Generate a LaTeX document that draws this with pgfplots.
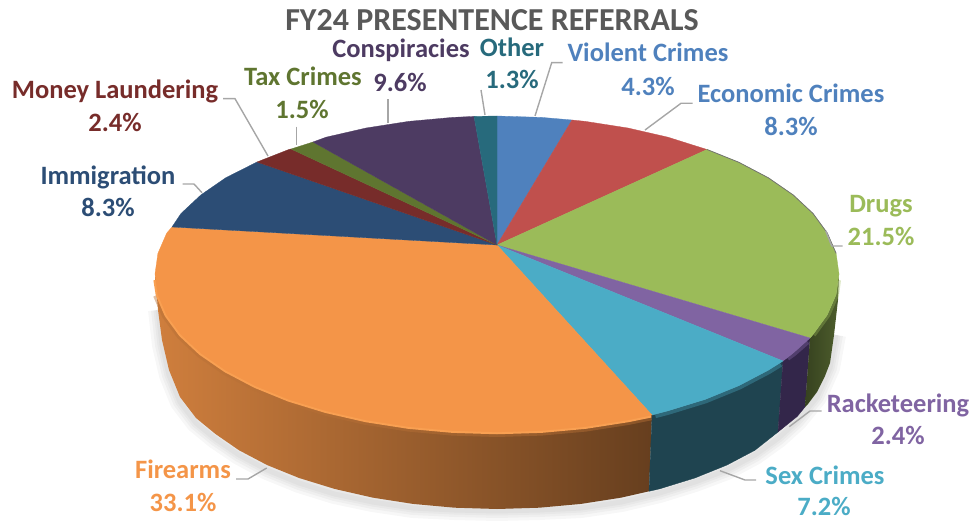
\documentclass[border=0pt]{standalone}
\usepackage{fontspec}
\setmainfont{Carlito}
\usepackage{pgfplots}
\pgfplotsset{compat=1.18}
\definecolor{cViolent}{HTML}{4F81BD}
\definecolor{cEcon}{HTML}{C0504D}
\definecolor{cDrugs}{HTML}{9BBB59}
\definecolor{cRack}{HTML}{8064A2}
\definecolor{cSex}{HTML}{4BACC6}
\definecolor{cFire}{HTML}{F49548}
\definecolor{cImm}{HTML}{2C4D75}
\definecolor{cMoney}{HTML}{772C2A}
\definecolor{cTax}{HTML}{5F7530}
\definecolor{cCons}{HTML}{4D3B62}
\definecolor{cOther}{HTML}{276A7C}
\definecolor{cLead}{HTML}{A6A6A6}
\definecolor{cLip}{HTML}{F9A052}
\definecolor{cSexSide}{HTML}{1F4450}
\definecolor{cRackSide}{HTML}{33264A}
\tikzset{
  lab/.style={font=\fontsize{26.5}{30}\selectfont\bfseries, inner sep=0pt, anchor=base},
  lead/.style={no markers, draw=cLead, line width=1.4pt},
  face/.style={no markers, fill=#1, draw=#1, line width=0.3pt},
  rim/.style={no markers, draw=#1, line join=round},
  shadow/.style={no markers, draw=black, opacity=0.03, line join=round},
}
\begin{document}
\begin{tikzpicture}
\begin{axis}[
  width=974pt, height=519pt, scale only axis,
  xmin=0, xmax=974, ymin=0, ymax=519, y dir=reverse,
  hide axis, clip=false,
]
% keep the whole frame in the page, hide axis drops it otherwise
\path (axis cs:0,0) rectangle (axis cs:974,519);
% soft shadow under the pie
\pgfplotsinvokeforeach{20,14,9,5}{
  \addplot[shadow, line width=#1pt] coordinates {
    (158,310) (162,345) (169,375) (180,402) (196,423) (215.5,439) (239.1,455) (267.2,470)
    (299.1,483) (334.5,494) (372.6,502) (412.9,508) (454.6,510) (497,511) (539.4,510) (581.1,508)
    (621.4,502) (659.5,493) (694.9,482) (726.8,470) (754.9,455) (778.5,438) (797.3,421) (817,397)
    (830,368) (836,335)
  };
}
% side walls
\addplot[no markers, shade, left color=cFire!85!black, middle color=cFire!70!black!80!cFire, right color=cFire!42!black, draw=none] coordinates {
  (155,274) (157.9,294.6) (166.7,314.9) (181,334.5) (200.8,353) (225.7,370.2) (255.2,385.7) (288.8,399.4)
  (326,410.8) (366.1,420) (408.5,426.6) (452.4,430.6) (497,432) (541.6,430.6) (585.5,426.6) (627.9,420) (652,415)
  (649,491.3) (621.4,497.6) (581.1,503.9) (539.4,507.7) (497,509) (454.6,507.7) (412.9,503.9) (372.6,497.6)
  (334.5,488.9) (299.1,478) (267.2,465.1) (239.1,450.3) (215.5,434) (196,418) (180,397) (169,370) (162,340) (158,310)
} -- cycle;
\addplot[face=cSexSide] coordinates {
  (652,415) (668,410.8) (705.2,399.4) (738.8,385.7) (768.3,370.2) (783,361)
  (778,432) (754.9,450.3) (726.8,465.1) (694.9,478) (659.5,488.9) (649,491.3)
} -- cycle;
\addplot[face=cRackSide] coordinates {
  (783,361) (793.2,353) (810,338) (805,407) (797.3,416.4) (778,432)
} -- cycle;
\addplot[no markers, shade, left color=cDrugs!35!black, right color=cDrugs!50!black, draw=none] coordinates {
  (810,338) (813,334.5) (827.3,314.9) (836.1,294.6) (839,274) (838,300) (834,335) (830,363) (825,376) (817,392) (808,404) (805,407)
} -- cycle;
% bevel along the rim
\addplot[rim=cFire!75!black, line width=10pt, opacity=0.45] coordinates {
  (157.9,294.6) (166.7,314.9) (181,334.5) (200.8,353) (225.7,370.2) (255.2,385.7) (288.8,399.4)
  (326,410.8) (366.1,420) (408.5,426.6) (452.4,430.6) (497,432) (541.6,430.6) (585.5,426.6) (627.9,420) (651,415.3)
};
\addplot[rim=cLip, line width=4.5pt] coordinates {
  (155.6,280) (157.9,294.6) (166.7,314.9) (181,334.5) (200.8,353) (225.7,370.2) (255.2,385.7) (288.8,399.4)
  (326,410.8) (366.1,420) (408.5,426.6) (452.4,430.6) (497,432) (541.6,430.6) (585.5,426.6) (627.9,420) (651,415.3)
};
\addplot[rim=cSex, line width=8pt, opacity=0.35] coordinates {
  (655,414.2) (668,410.8) (705.2,399.4) (738.8,385.7) (768.3,370.2) (780,363)
};
\addplot[rim=cRack, line width=7pt, opacity=0.4] coordinates {
  (787,357.5) (793.2,353) (807,341)
};
\addplot[rim=cDrugs, line width=6pt, opacity=0.35] coordinates {
  (813,334.5) (827.3,314.9) (836.1,294.6) (838,280)
};
% top face, from the top of the ellipse clockwise
\addplot[face=cViolent] coordinates {
  (497,245) (497,116) (541.6,117.4) (572,120)
} -- cycle;
\addplot[face=cEcon] coordinates {
  (497,245) (572,120) (585.5,121.4) (627.9,128) (668,137.2) (707,149.5)
} -- cycle;
\addplot[face=cDrugs] coordinates {
  (497,245) (707,149.5) (738.8,162.3) (768.3,177.8) (793.2,195) (813,213.5) (827.3,233.1) (836.1,253.4)
  (839,274) (836.1,294.6) (827.3,314.9) (813,334.5) (810,338)
} -- cycle;
\addplot[face=cRack] coordinates {
  (497,245) (810,338) (793.2,353) (783,361)
} -- cycle;
\addplot[face=cSex] coordinates {
  (497,245) (783,361) (768.3,370.2) (738.8,385.7) (705.2,399.4) (668,410.8) (652,415)
} -- cycle;
\addplot[face=cFire] coordinates {
  (497,245) (652,415) (627.9,420) (585.5,426.6) (541.6,430.6) (497,432) (452.4,430.6) (408.5,426.6) (366.1,420)
  (326,410.8) (288.8,399.4) (255.2,385.7) (225.7,370.2) (200.8,353) (181,334.5) (166.7,314.9) (157.9,294.6)
  (155,274) (157.9,253.4) (166.7,233.1) (172,227)
} -- cycle;
\addplot[face=cImm] coordinates {
  (497,245) (172,227) (181,213.5) (200.8,195) (225.7,177.8) (257,162)
} -- cycle;
\addplot[face=cMoney] coordinates {
  (497,245) (257,162) (288.8,149.5) (291,149)
} -- cycle;
\addplot[face=cTax] coordinates {
  (497,245) (291,149) (313,142)
} -- cycle;
\addplot[face=cCons] coordinates {
  (497,245) (313,142) (326,137.2) (366.1,128) (408.5,121.4) (452.4,117.4) (474,116.4)
} -- cycle;
\addplot[face=cOther] coordinates {
  (497,245) (474,116.4) (497,116)
} -- cycle;
% thin dark edge on the upper right
\addplot[rim=black!55, line width=0.8pt] coordinates {
  (707,149.5) (738.8,162.3) (768.3,177.8) (793.2,195) (813,213.5) (827.3,233.1) (836.1,253.4)
};
% leader lines
\addplot[lead] coordinates {(388,99.3) (388,123)};
\addplot[lead] coordinates {(481,90) (485,115)};
\addplot[lead] coordinates {(562.7,62.7) (551.7,62.7) (535,116)};
\addplot[lead] coordinates {(692.7,103.3) (681,103.3) (645,130)};
\addplot[lead] coordinates {(842.7,246) (831.7,246) (825.7,230.7)};
\addplot[lead] coordinates {(821.7,411) (810,411) (789.3,426.7)};
\addplot[lead] coordinates {(756,480) (745,480) (720,470.7)};
\addplot[lead] coordinates {(236,479) (248,479) (266.7,468)};
\addplot[lead] coordinates {(182.7,184) (194,184) (202,192.7)};
\addplot[lead] coordinates {(223,98.7) (235,98.7) (268,156)};
\addplot[lead] coordinates {(296.7,126.7) (296.7,145)};
% labels
\node[lab, text=black!65, font=\fontsize{32}{36}\selectfont\bfseries] at (axis cs:492,31) {FY24 PRESENTENCE REFERRALS};
\node[lab, text=cCons] at (axis cs:401,58) {Conspiracies};
\node[lab, text=cCons] at (axis cs:400,92) {9.6\%};
\node[lab, text=cOther] at (axis cs:512,56.7) {Other};
\node[lab, text=cOther] at (axis cs:512,89) {1.3\%};
\node[lab, text=cViolent] at (axis cs:648,62) {Violent Crimes};
\node[lab, text=cViolent] at (axis cs:648,96) {4.3\%};
\node[lab, text=cViolent] at (axis cs:791,102.3) {Economic Crimes};
\node[lab, text=cViolent] at (axis cs:791,135.3) {8.3\%};
\node[lab, text=cDrugs] at (axis cs:881,213) {Drugs};
\node[lab, text=cDrugs] at (axis cs:881,246) {21.5\%};
\node[lab, text=cRack] at (axis cs:898,412.3) {Racketeering};
\node[lab, text=cRack] at (axis cs:898,444.3) {2.4\%};
\node[lab, text=cSex] at (axis cs:825,484.3) {Sex Crimes};
\node[lab, text=cSex] at (axis cs:824,515.5) {7.2\%};
\node[lab, text=cFire] at (axis cs:183,478.3) {Firearms};
\node[lab, text=cFire] at (axis cs:183,511.7) {33.1\%};
\node[lab, text=cImm] at (axis cs:108,185) {Immigration};
\node[lab, text=cImm] at (axis cs:108,216.7) {8.3\%};
\node[lab, text=cMoney] at (axis cs:115,99) {Money Laundering};
\node[lab, text=cMoney] at (axis cs:115,131.7) {2.4\%};
\node[lab, text=cTax] at (axis cs:303,86) {Tax Crimes};
\node[lab, text=cTax] at (axis cs:302,118.3) {1.5\%};
\end{axis}
\end{tikzpicture}
\end{document}
